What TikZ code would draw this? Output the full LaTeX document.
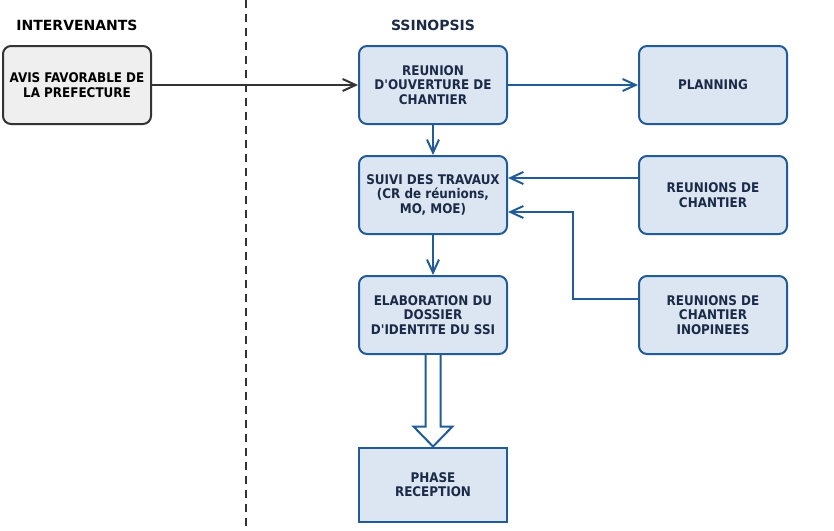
\documentclass[tikz,border=0pt]{standalone}
\usepackage{fontspec}
\setmainfont{DejaVu Sans}[Ligatures=TeXOff]
\newfontfamily\boxfont{DejaVu Sans Condensed}[Ligatures=TeXOff]
\usetikzlibrary{shapes,arrows.meta}
\usepackage{xcolor}
\definecolor{boxfill}{HTML}{DCE6F2}
\definecolor{boxline}{HTML}{215C98}
\definecolor{navy}{HTML}{1B2A47}
\definecolor{greyfill}{HTML}{EFEFEF}
\definecolor{greyline}{HTML}{333333}
\tikzstyle{block} = [draw=boxline, fill=boxfill, text=navy, line width=2pt, rounded corners=8pt, rectangle, minimum height=78pt, minimum width=148pt, align=center, inner sep=2pt]
\tikzstyle{source} = [block, draw=greyline, fill=greyfill, text=black]
\tikzstyle{title} = [font={\fontsize{14pt}{16pt}\selectfont\bfseries}]
\tikzstyle{flow} = [draw=boxline, line width=2pt, ->]

\begin{document}
\begin{tikzpicture}[x=1pt, y=-1pt, >={Straight Barb[length=13pt,width=12pt]}]
    \tikzset{font={\boxfont\fontsize{13.3pt}{14.5pt}\selectfont\bfseries}}
    \useasboundingbox (0,0) rectangle (834,530);
    \node [source] (avis) at (77,85) {AVIS FAVORABLE DE\\ LA PREFECTURE};
    \node [block, right of=avis, node distance=356pt] (ouverture) {REUNION\\ D'OUVERTURE DE\\ CHANTIER};
    \node [block, right of=ouverture, node distance=280pt] (planning) {PLANNING};
    \node [block, below of=ouverture, node distance=110pt] (suivi) {SUIVI DES TRAVAUX\\ (CR de réunions,\\ MO, MOE)};
    \node [block, right of=suivi, node distance=280pt] (chantier) {REUNIONS DE\\ CHANTIER};
    \node [block, below of=suivi, node distance=120pt] (elab) {ELABORATION DU\\ DOSSIER\\ D'IDENTITE DU SSI};
    \node [block, right of=elab, node distance=280pt] (inop) {REUNIONS DE\\ CHANTIER\\ INOPINEES};
    \node [block, below of=elab, node distance=169.5pt, rounded corners=0pt, minimum height=74pt] (recep) {PHASE\\ RECEPTION};
    \node [title, above of=avis, node distance=60pt] (intervenants) {\rmfamily INTERVENANTS};
    \node [title, text=navy, above of=ouverture, node distance=60pt] (synopsis) {\rmfamily SSINOPSIS};

    % Dashed separator
    \draw [greyline, line width=2pt, dash pattern=on 8pt off 6pt] (246,0) -- (246,530);

    \draw [->, greyline, line width=2pt] (avis) -- (ouverture);
    \draw [flow] (ouverture) -- (planning);
    \draw [flow] (ouverture) -- (suivi);
    \draw [flow] (suivi) -- (elab);
    \draw [flow] ([yshift=17pt]chantier.west) -- ([yshift=17pt]suivi.east);
    \draw [flow] ([yshift=16pt]inop.west) -| ([xshift=65pt,yshift=-17pt]suivi.east) -- ([yshift=-17pt]suivi.east);

    % Hollow arrow
    \draw [draw=boxline, fill=white, line width=2pt] ([xshift=-7.5pt]elab.south) -- ([xshift=-7.5pt,yshift=20pt]recep.north) -- ([xshift=-19.5pt,yshift=20pt]recep.north) -- (recep.north) -- ([xshift=19.5pt,yshift=20pt]recep.north) -- ([xshift=7.5pt,yshift=20pt]recep.north) -- ([xshift=7.5pt]elab.south);
\end{tikzpicture}
\end{document}
